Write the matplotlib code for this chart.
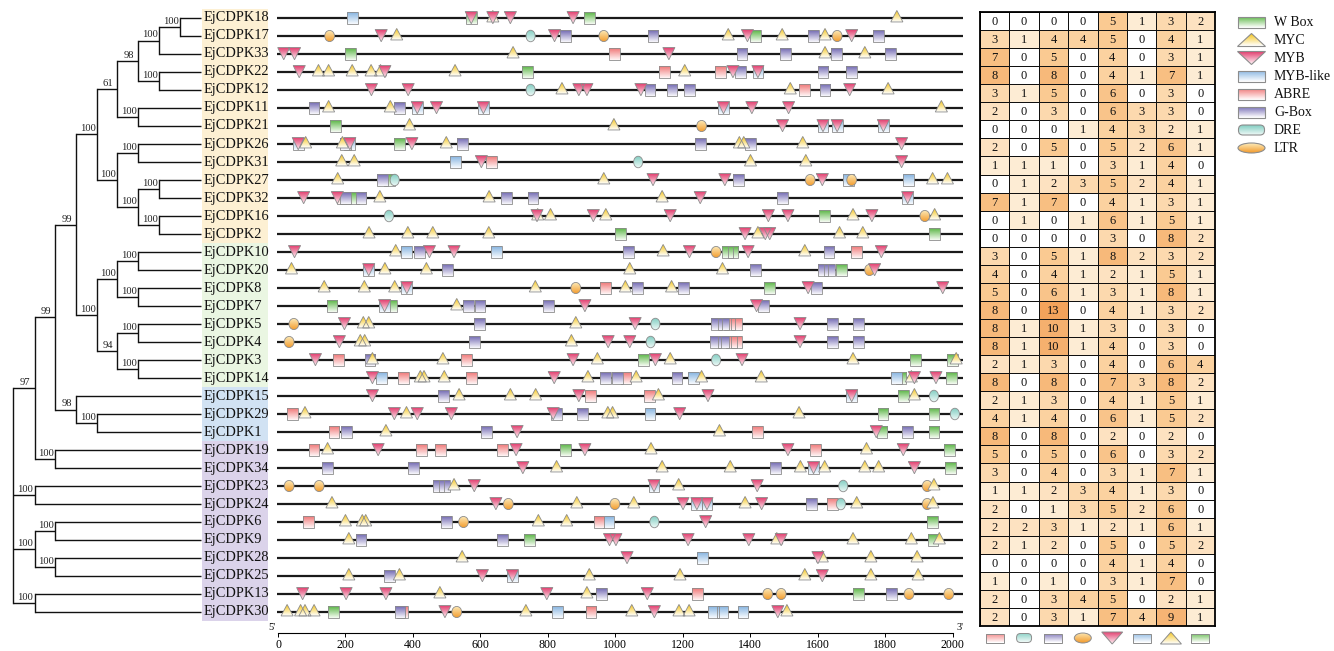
import numpy as np
import matplotlib
matplotlib.use("Agg")
import matplotlib.pyplot as plt
from matplotlib.patches import Rectangle, Polygon, Ellipse, FancyBboxPatch
from matplotlib.colors import to_rgb, LinearSegmentedColormap

plt.rcParams['font.family'] = ['Liberation Serif', 'DejaVu Serif']

# ---------------- data ----------------
genes = ['EjCDPK18', 'EjCDPK17', 'EjCDPK33', 'EjCDPK22', 'EjCDPK12', 'EjCDPK11', 'EjCDPK21',
         'EjCDPK26', 'EjCDPK31', 'EjCDPK27', 'EjCDPK32', 'EjCDPK16', 'EjCDPK2', 'EjCDPK10',
         'EjCDPK20', 'EjCDPK8', 'EjCDPK7', 'EjCDPK5', 'EjCDPK4', 'EjCDPK3', 'EjCDPK14',
         'EjCDPK15', 'EjCDPK29', 'EjCDPK1', 'EjCDPK19', 'EjCDPK34', 'EjCDPK23', 'EjCDPK24',
         'EjCDPK6', 'EjCDPK9', 'EjCDPK28', 'EjCDPK25', 'EjCDPK13', 'EjCDPK30']
group_sizes = [13, 8, 3, 10]
group_colors = ['#FDF0D3', '#EAF6E2', '#D1E2F3', '#DBD3EA']

# tree: (node, x position, bootstrap, children)
tree = ('n', 13, None, [
    ('n', 35, '97', [
        ('n', 55, '99', [
            ('n', 76, '99', [
                ('n', 97, '100', [
                    ('n', 117, '61', [
                        ('n', 138, '98', [
                            ('n', 159, '100', [('n', 180, '100', ['EjCDPK18', 'EjCDPK17']), 'EjCDPK33']),
                            ('n', 159, '100', ['EjCDPK22', 'EjCDPK12'])]),
                        ('n', 138, '100', ['EjCDPK11', 'EjCDPK21'])]),
                    ('n', 117, '100', [
                        ('n', 138, '100', ['EjCDPK26', 'EjCDPK31']),
                        ('n', 138, '100', [
                            ('n', 159, '100', ['EjCDPK27', 'EjCDPK32']),
                            ('n', 159, '100', ['EjCDPK16', 'EjCDPK2'])])])]),
                ('n', 97, '100', [
                    ('n', 117, '100', [
                        ('n', 138, '100', ['EjCDPK10', 'EjCDPK20']),
                        ('n', 138, '100', ['EjCDPK8', 'EjCDPK7'])]),
                    ('n', 117, '94', [
                        ('n', 138, '100', ['EjCDPK5', 'EjCDPK4']),
                        ('n', 138, '100', ['EjCDPK3', 'EjCDPK14'])])])]),
            ('n', 76, '98', ['EjCDPK15', ('n', 97, '100', ['EjCDPK29', 'EjCDPK1'])])]),
        ('n', 55, '100', ['EjCDPK19', 'EjCDPK34'])]),
    ('n', 35, '100', ['EjCDPK23', 'EjCDPK24']),
    ('n', 35, '100', [
        ('n', 55, '100', ['EjCDPK6', 'EjCDPK9']),
        ('n', 55, '100', ['EjCDPK28', 'EjCDPK25'])]),
    ('n', 35, '100', ['EjCDPK13', 'EjCDPK30'])])

WBOX = {'EjCDPK18': [573, 924], 'EjCDPK17': [1416], 'EjCDPK33': [216], 'EjCDPK22': [739],
        'EjCDPK21': [170], 'EjCDPK26': [360], 'EjCDPK27': [330], 'EjCDPK32': [224],
        'EjCDPK16': [1621], 'EjCDPK2': [1016, 1947], 'EjCDPK10': [1332, 1349], 'EjCDPK20': [1672],
        'EjCDPK8': [1458], 'EjCDPK7': [160, 336], 'EjCDPK3': [1083, 1891, 2001],
        'EjCDPK14': [1847, 1998], 'EjCDPK15': [1854], 'EjCDPK29': [1794, 1945],
        'EjCDPK1': [1791, 1945], 'EjCDPK19': [852, 1991], 'EjCDPK34': [1994], 'EjCDPK6': [1941],
        'EjCDPK9': [746, 1942], 'EjCDPK13': [1722], 'EjCDPK30': [164]}
MYB_LIKE = {'EjCDPK18': [222], 'EjCDPK22': [1423], 'EjCDPK11': [413, 609, 1321],
            'EjCDPK21': [1616, 1658, 1795], 'EjCDPK26': [60, 213], 'EjCDPK31': [526],
            'EjCDPK27': [1691, 1869], 'EjCDPK32': [1867], 'EjCDPK10': [380, 649], 'EjCDPK20': [269],
            'EjCDPK8': [382], 'EjCDPK7': [316], 'EjCDPK14': [306, 1232, 1834], 'EjCDPK15': [1701],
            'EjCDPK29': [1103], 'EjCDPK34': [1588], 'EjCDPK23': [1115], 'EjCDPK24': [1242, 1272],
            'EjCDPK6': [981], 'EjCDPK28': [1259], 'EjCDPK25': [695],
            'EjCDPK30': [828, 1292, 1319, 1379]}
ABRE = {'EjCDPK33': [998], 'EjCDPK22': [1146, 1312], 'EjCDPK12': [1561], 'EjCDPK31': [633],
        'EjCDPK32': [190], 'EjCDPK10': [1716], 'EjCDPK8': [972], 'EjCDPK5': [1338, 1359],
        'EjCDPK4': [1345, 1359], 'EjCDPK3': [180, 559], 'EjCDPK14': [373, 573, 1032],
        'EjCDPK15': [926, 1101], 'EjCDPK29': [43], 'EjCDPK1': [166, 1421],
        'EjCDPK19': [107, 426, 482, 666, 1594], 'EjCDPK24': [1645], 'EjCDPK6': [91, 952],
        'EjCDPK13': [1245], 'EjCDPK30': [370, 928]}
GBOX = {'EjCDPK17': [852, 1112, 1588, 1780], 'EjCDPK33': [1376, 1505, 1656, 1816],
        'EjCDPK22': [1372, 1616, 1701], 'EjCDPK12': [1103, 1168, 1221, 1622], 'EjCDPK11': [107, 360],
        'EjCDPK26': [200, 546, 1252, 1401], 'EjCDPK27': [309, 1365],
        'EjCDPK32': [200, 246, 677, 756, 1496], 'EjCDPK10': [420, 1039, 1634],
        'EjCDPK20': [503, 1415, 1616, 1636], 'EjCDPK8': [1066, 1203, 1596],
        'EjCDPK7': [566, 599, 802, 1439], 'EjCDPK5': [597, 1301, 1322, 1645, 1722],
        'EjCDPK4': [583, 1298, 1321, 1645, 1722], 'EjCDPK3': [273], 'EjCDPK14': [970, 1006, 1183],
        'EjCDPK15': [490], 'EjCDPK29': [826, 904], 'EjCDPK1': [202, 619, 1867],
        'EjCDPK34': [147, 402, 1474], 'EjCDPK23': [477, 493], 'EjCDPK24': [1581], 'EjCDPK6': [499],
        'EjCDPK9': [246, 666], 'EjCDPK25': [330], 'EjCDPK13': [959, 1818], 'EjCDPK30': [362]}
DRE = {'EjCDPK17': [749], 'EjCDPK12': [749], 'EjCDPK31': [1068], 'EjCDPK27': [346],
       'EjCDPK16': [329], 'EjCDPK5': [1119], 'EjCDPK4': [1105], 'EjCDPK3': [1299],
       'EjCDPK15': [1945], 'EjCDPK29': [2007], 'EjCDPK23': [1676], 'EjCDPK24': [1669],
       'EjCDPK6': [1116]}
LTR = {'EjCDPK17': [153, 966, 1658], 'EjCDPK21': [1256], 'EjCDPK27': [1578, 1701],
       'EjCDPK16': [1918], 'EjCDPK10': [1299], 'EjCDPK20': [1754], 'EjCDPK8': [883],
       'EjCDPK5': [47], 'EjCDPK4': [33], 'EjCDPK23': [33, 122, 1925], 'EjCDPK24': [683, 999, 1925],
       'EjCDPK6': [550], 'EjCDPK13': [1452, 1492, 1871, 1989], 'EjCDPK30': [530]}
MYC = {'EjCDPK18': [637, 1835], 'EjCDPK17': [352, 1335, 1495, 1622], 'EjCDPK33': [697, 1622, 1740],
       'EjCDPK22': [120, 150, 220, 276, 304, 525, 1206], 'EjCDPK12': [842, 1519, 1809],
       'EjCDPK11': [150, 333, 1967], 'EjCDPK21': [390, 996],
       'EjCDPK26': [82, 191, 499, 1368, 1381, 1556], 'EjCDPK31': [189, 226, 1401, 1565],
       'EjCDPK27': [177, 966, 1941, 1985], 'EjCDPK32': [302, 626, 1139],
       'EjCDPK16': [770, 808, 972, 1705, 1947], 'EjCDPK2': [270, 385, 459, 625, 1423, 1665, 1734],
       'EjCDPK10': [349, 1142, 1562], 'EjCDPK20': [40, 317, 440, 1043, 1318],
       'EjCDPK8': [137, 256, 346, 763, 1030, 1167], 'EjCDPK7': [530], 'EjCDPK5': [253, 269, 883],
       'EjCDPK4': [244, 257, 870], 'EjCDPK3': [280, 489, 947, 1163, 1705, 2011],
       'EjCDPK14': [422, 433, 493, 919, 1062, 1256, 1433, 1878],
       'EjCDPK15': [537, 689, 764, 1128, 1887], 'EjCDPK29': [80, 381, 978, 992, 1545],
       'EjCDPK1': [320, 1309], 'EjCDPK19': [147, 1106, 1745],
       'EjCDPK34': [826, 1139, 1341, 1549, 1621, 1740, 1781], 'EjCDPK23': [522, 1188, 1945],
       'EjCDPK24': [160, 886, 1055, 1385, 1716, 1942], 'EjCDPK6': [200, 250, 260, 772, 856],
       'EjCDPK9': [210, 1479, 1705, 1878, 1961], 'EjCDPK28': [546, 1614, 1758, 1895],
       'EjCDPK25': [210, 360, 923, 1192, 1562, 1758, 1898], 'EjCDPK13': [480, 916],
       'EjCDPK30': [27, 67, 80, 107, 735, 1049, 1189, 1219, 1509]}
MYB = {'EjCDPK18': [573, 637, 689, 875], 'EjCDPK17': [306, 820, 1392, 1701], 'EjCDPK33': [17, 49, 1159],
       'EjCDPK22': [63, 317, 1349, 1423], 'EjCDPK12': [277, 386, 892, 916, 1076, 1695],
       'EjCDPK11': [413, 470, 609, 1321, 1405, 1514], 'EjCDPK21': [1496, 1616, 1658, 1795],
       'EjCDPK26': [60, 213, 397, 1849], 'EjCDPK31': [603, 1849], 'EjCDPK27': [1112, 1325, 1614],
       'EjCDPK32': [76, 176, 1252, 1867], 'EjCDPK16': [768, 935, 1163, 1454, 1512, 1761],
       'EjCDPK2': [1385, 1445, 1458], 'EjCDPK10': [49, 449, 522, 1220, 1394, 1789],
       'EjCDPK20': [269, 1769], 'EjCDPK8': [382, 1572, 1971], 'EjCDPK7': [316, 910, 1419],
       'EjCDPK5': [197, 1059, 1548], 'EjCDPK4': [182, 979, 1043, 1548],
       'EjCDPK3': [111, 875, 1119, 1376], 'EjCDPK14': [280, 819, 1887, 1951],
       'EjCDPK15': [280, 892, 1275, 1701], 'EjCDPK29': [345, 413, 514, 816, 1191],
       'EjCDPK1': [709, 1774], 'EjCDPK19': [297, 706, 910, 1512, 1854], 'EjCDPK34': [726, 1588, 1887],
       'EjCDPK23': [582, 1115, 1421], 'EjCDPK24': [646, 1201, 1242, 1272, 1434], 'EjCDPK6': [1268],
       'EjCDPK9': [983, 1002, 1216, 1396, 1492], 'EjCDPK28': [1035, 1601],
       'EjCDPK25': [606, 695, 1614], 'EjCDPK13': [73, 202, 320, 797, 1095],
       'EjCDPK30': [495, 1116, 1482]}

heat_cols = ['ABRE', 'DRE', 'G-Box', 'LTR', 'MYB', 'MYB-like', 'MYC', 'W Box']
counts = [
    [0, 0, 0, 0, 5, 1, 3, 2], [3, 1, 4, 4, 5, 0, 4, 1], [7, 0, 5, 0, 4, 0, 3, 1],
    [8, 0, 8, 0, 4, 1, 7, 1], [3, 1, 5, 0, 6, 0, 3, 0], [2, 0, 3, 0, 6, 3, 3, 0],
    [0, 0, 0, 1, 4, 3, 2, 1], [2, 0, 5, 0, 5, 2, 6, 1], [1, 1, 1, 0, 3, 1, 4, 0],
    [0, 1, 2, 3, 5, 2, 4, 1], [7, 1, 7, 0, 4, 1, 3, 1], [0, 1, 0, 1, 6, 1, 5, 1],
    [0, 0, 0, 0, 3, 0, 8, 2], [3, 0, 5, 1, 8, 2, 3, 2], [4, 0, 4, 1, 2, 1, 5, 1],
    [5, 0, 6, 1, 3, 1, 8, 1], [8, 0, 13, 0, 4, 1, 3, 2], [8, 1, 10, 1, 3, 0, 3, 0],
    [8, 1, 10, 1, 4, 0, 3, 0], [2, 1, 3, 0, 4, 0, 6, 4], [8, 0, 8, 0, 7, 3, 8, 2],
    [2, 1, 3, 0, 4, 1, 5, 1], [4, 1, 4, 0, 6, 1, 5, 2], [8, 0, 8, 0, 2, 0, 2, 0],
    [5, 0, 5, 0, 6, 0, 3, 2], [3, 0, 4, 0, 3, 1, 7, 1], [1, 1, 2, 3, 4, 1, 3, 0],
    [2, 0, 1, 3, 5, 2, 6, 0], [2, 2, 3, 1, 2, 1, 6, 1], [2, 1, 2, 0, 5, 0, 5, 2],
    [0, 0, 0, 0, 4, 1, 4, 0], [1, 0, 1, 0, 3, 1, 7, 0], [2, 0, 3, 4, 5, 0, 2, 1],
    [2, 0, 3, 1, 7, 4, 9, 1]]

legend_order = ['W Box', 'MYC', 'MYB', 'MYB-like', 'ABRE', 'G-Box', 'DRE', 'LTR']

# ---------------- style ----------------
STYLE = {  # kind, top colour, bottom colour
    'W Box': ('rect', '#5BB646', '#F5FBF2'),
    'MYB-like': ('rect', '#86B4E0', '#F7FAFE'),
    'ABRE': ('rect', '#F07878', '#FFF5F5'),
    'G-Box': ('rect', '#7269B2', '#F8F7FC'),
    'DRE': ('round', '#83CEC2', '#EEF9F7'),
    'LTR': ('ellipse', '#FDEBB8', '#F29A2C'),
    'MYC': ('up', '#F5C414', '#FFFFFF'),
    'MYB': ('down', '#E03A6B', '#FFF2F6'),
}
EDGE = '#8C8C8C'
element_data = [('W Box', WBOX), ('MYB-like', MYB_LIKE), ('ABRE', ABRE), ('G-Box', GBOX),
                ('DRE', DRE), ('LTR', LTR), ('MYC', MYC), ('MYB', MYB)]

W, H = 1334, 651
fig = plt.figure(figsize=(W / 100, H / 100), dpi=100)
fig.patch.set_facecolor('white')


def add_px_axes(x0, y0, x1, y1):
    a = fig.add_axes([x0 / W, 1 - y1 / H, (x1 - x0) / W, (y1 - y0) / H])
    a.set_facecolor('none')
    return a


def gradient(c_top, c_bot, n=32):
    t = np.linspace(0, 1, n)[:, None, None]
    a = np.array(to_rgb(c_top))[None, None, :]
    b = np.array(to_rgb(c_bot))[None, None, :]
    return a * (1 - t) + b * t


def shape(ax, name, cx, cy, w, h, z, lw=0.6, kind=None):
    k0, ct, cb = STYLE[name]
    kind = kind or k0
    if kind == 'rect':
        p = Rectangle((cx - w / 2, cy - h / 2), w, h)
    elif kind == 'up':
        p = Polygon([(cx - w / 2, cy - h / 2), (cx + w / 2, cy - h / 2), (cx, cy + h / 2)], closed=True)
    elif kind == 'down':
        p = Polygon([(cx - w / 2, cy + h / 2), (cx + w / 2, cy + h / 2), (cx, cy - h / 2)], closed=True)
    elif kind == 'ellipse':
        p = Ellipse((cx, cy), w, h)
    else:
        r = h * 0.45
        p = FancyBboxPatch((cx - w / 2, cy - h / 2), w, h,
                           boxstyle=f'round,pad=0,rounding_size={r}')
    p.set_facecolor('none')
    p.set_edgecolor(EDGE)
    p.set_linewidth(lw)
    p.set_zorder(z + 0.5)
    ax.add_patch(p)
    im = ax.imshow(gradient(ct, cb), extent=(cx - w / 2, cx + w / 2, cy - h / 2, cy + h / 2),
                   origin='upper', aspect='auto', interpolation='bilinear', zorder=z)
    im.set_clip_path(p)


N = len(genes)
row_y = {g: N - 1 - i for i, g in enumerate(genes)}
KPX = 0.33725  # pixels per bp
Y_TOP, Y_BOT = 3, 633
ylim = (N - 1 - (Y_BOT - 18) / 18, N - 1 - (Y_TOP - 18) / 18)

# ---------------- tree ----------------
ax_tree = add_px_axes(0, Y_TOP, 278, Y_BOT)
LEAF_X = 201
TREE_LW = 1.0


def draw(node, parent_x):
    if isinstance(node, str):
        y = row_y[node]
        ax_tree.plot([parent_x, LEAF_X], [y, y], color='#111111', lw=TREE_LW, solid_capstyle='butt')
        return y
    _, x, label, children = node
    ys = [draw(c, x) for c in children]
    ax_tree.plot([x, x], [min(ys), max(ys)], color='#111111', lw=TREE_LW, solid_capstyle='projecting')
    y = (min(ys) + max(ys)) / 2
    if parent_x is not None:
        ax_tree.plot([parent_x, x], [y, y], color='#111111', lw=TREE_LW, solid_capstyle='butt')
        if label:
            ax_tree.text((parent_x + x) / 2 + 1, y + 0.06, label, ha='center', va='bottom',
                         fontsize=7.6, color='#222222')
    return y


draw(tree, None)

start = 0
for size, col in zip(group_sizes, group_colors):
    ys = [row_y[g] for g in genes[start:start + size]]
    ax_tree.add_patch(Rectangle((202, min(ys) - 0.5), 66, max(ys) - min(ys) + 1,
                                facecolor=col, edgecolor='none', zorder=0))
    start += size
for g in genes:
    ax_tree.text(204, row_y[g], g, ha='left', va='center', fontsize=10.4, color='#111111', zorder=2)
ax_tree.set_xlim(0, 278)
ax_tree.set_ylim(*ylim)
ax_tree.axis('off')

# ---------------- promoter map ----------------
ax_map = add_px_axes(262, Y_TOP, 972, Y_BOT)
for g in genes:
    ax_map.plot([-3, 2030], [row_y[g], row_y[g]], color='#1A1A1A', lw=1.6, zorder=1,
                solid_capstyle='butt')

geom = {  # width (bp), height (rows), vertical offset (rows)
    'rect': (32, 0.66, 0.0), 'round': (27, 0.64, 0.0), 'ellipse': (29, 0.62, 0.0),
    'up': (36, 0.64, 0.10), 'down': (36, 0.68, 0.02)}
for zi, (name, data) in enumerate(element_data):
    kind = STYLE[name][0]
    w, h, off = geom[kind]
    draw_kind = 'ellipse' if kind == 'round' else kind
    for g, positions in data.items():
        for pos in positions:
            shape(ax_map, name, pos, row_y[g] + off, w, h, 2 + zi, kind=draw_kind)

ax_map.set_xlim((262 - 278) / KPX, (972 - 278) / KPX)
ax_map.set_ylim(*ylim)
for s in ['top', 'right', 'left']:
    ax_map.spines[s].set_visible(False)
ax_map.spines['bottom'].set_bounds(0, 2000)
ax_map.spines['bottom'].set_linewidth(0.8)
ax_map.set_yticks([])
ax_map.set_xticks(np.arange(0, 2001, 200))
ax_map.tick_params(axis='x', which='major', length=3, width=0.7, pad=1.5, labelsize=8.6)
ax_map.text(-8, ylim[0] + 0.05, "5'", ha='right', va='bottom', fontsize=7.5)
ax_map.text(2012, ylim[0] + 0.05, "3'", ha='left', va='bottom', fontsize=7.5)

# ---------------- heatmap ----------------
ax_heat = add_px_axes(980, 12, 1215, 626)
cmap = LinearSegmentedColormap.from_list('peach', [
    (0.0, '#FFFFFF'), (1 / 13, '#FDEBD3'), (3 / 13, '#FCD9AE'), (5 / 13, '#FACA92'),
    (8 / 13, '#F7B97A'), (1.0, '#F3A35B')])
arr = np.array(counts)
ax_heat.pcolormesh(np.arange(9), np.arange(N + 1), arr, cmap=cmap, vmin=0, vmax=13,
                   edgecolors='#111111', linewidth=0.7)
for i in range(N):
    for j in range(len(heat_cols)):
        ax_heat.text(j + 0.5, i + 0.55, str(arr[i, j]), ha='center', va='center', fontsize=9,
                     color='#111111')
ax_heat.set_xlim(0, 8)
ax_heat.set_ylim(N, 0)
ax_heat.set_xticks([])
ax_heat.set_yticks([])
for s in ax_heat.spines.values():
    s.set_linewidth(1.3)

# icons under heatmap columns (pixel units)
ax_hl = add_px_axes(980, 628, 1215, 650)
cell_w = 235 / len(heat_cols)
icon_size = {'rect': (18, 9), 'round': (15, 9), 'ellipse': (17, 10), 'up': (21, 12), 'down': (21, 12)}
for j, name in enumerate(heat_cols):
    kind = STYLE[name][0]
    w, h = icon_size[kind]
    shape(ax_hl, name, (j + 0.5) * cell_w, 12, w, h, 2, lw=0.7)
ax_hl.set_xlim(0, 235)
ax_hl.set_ylim(0, 22)
ax_hl.axis('off')

# ---------------- legend ----------------
ax_leg = add_px_axes(1225, 8, 1334, 160)
leg_size = {'rect': (27, 11), 'round': (26, 10), 'ellipse': (27, 10), 'up': (28, 13), 'down': (28, 13)}
for k, name in enumerate(legend_order):
    y = 138 - 18 * k
    kind = STYLE[name][0]
    w, h = leg_size[kind]
    shape(ax_leg, name, 1251.5, y, w, h, 2, lw=0.8)
    ax_leg.text(1274, y, name, ha='left', va='center', fontsize=10, color='#111111')
ax_leg.set_xlim(1225, 1334)
ax_leg.set_ylim(0, 152)
ax_leg.axis('off')

fig.savefig('out.png', dpi=100)
